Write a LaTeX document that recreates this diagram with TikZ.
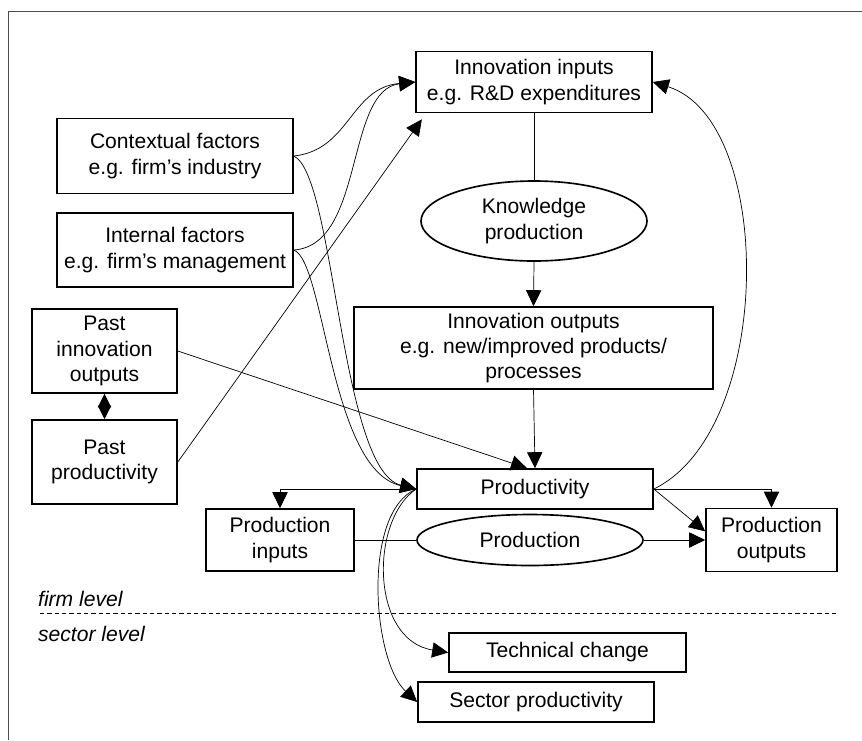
\documentclass[tikz,border=0pt]{standalone}
\usepackage{fontspec}
\setmainfont{Liberation Sans}
\usetikzlibrary{arrows.meta, shapes.geometric}

\begin{document}
\begin{tikzpicture}[x=0.3mm, y=-0.3mm,
    font=\fontsize{18}{21.5}\selectfont,
    box/.style 2 args={draw, line width=1.4pt, align=center, inner sep=0pt,
        minimum width=#1*0.3mm, minimum height=#2*0.3mm},
    oval/.style 2 args={box={#1}{#2}, ellipse},
    link/.style={line width=0.6pt},
    arr/.style={link, -{Triangle[length=4.8mm, width=4.6mm]}},
    both/.style={link, {Triangle[length=4.1mm, width=4mm]}-{Triangle[length=4.1mm, width=4mm]}}]

    \useasboundingbox (0,0) rectangle (862,740);

    % frame
    \draw[line width=0.7pt, black!70] (8,740) -- (8,11) -- (862,11);

    % firm level
    \node[box={236}{61}] (innin) at (534,82) {Innovation inputs\\e.g. R\&D expenditures};
    \node[box={236}{75}] (context) at (175,156) {Contextual factors\\e.g. firm’s industry};
    \node[box={236}{74}] (internal) at (175,250) {Internal factors\\e.g. firm’s management};
    \node[box={145}{84}] (pastinno) at (104.5,351) {Past\\innovation\\outputs};
    \node[box={145}{84}] (pastprod) at (104.5,462) {Past\\productivity};
    \node[oval={226}{80}] (knowprod) at (534,221) {Knowledge\\production};
    \node[box={359}{82}] (innout) at (533.5,348) {Innovation outputs\\e.g. new/improved products/\\processes};
    \node[box={236}{40}] (prodty) at (535,489) {Productivity};
    \node[oval={226}{51}] (prodn) at (530,540) {Production};
    \node[box={148}{62}] (prodin) at (280,540) {Production\\inputs};
    \node[box={131}{63}] (prodout) at (771.5,540) {Production\\outputs};

    % sector level
    \node[box={237}{39}] (techch) at (567.5,652.5) {Technical change};
    \node[box={236}{40}] (sectprod) at (536,702) {Sector productivity};

    \coordinate (dashL) at (40,613);
    \coordinate (dashR) at (838,613);
    \draw[line width=0.6pt, dash pattern=on 1.3mm off 0.9mm] (dashL) -- (dashR);
    \node[anchor=west, font=\fontsize{18}{21.5}\selectfont\itshape] (firm) at (34,599) {firm level};
    \node[anchor=west, font=\fontsize{18}{21.5}\selectfont\itshape] (sector) at (34,634) {sector level};

    % knowledge production chain
    \draw[link] (innin.south) -- (knowprod.north);
    \draw[arr] (knowprod.south) -- (innout.north);
    \draw[arr] (innout.south) -- (prodty.north);

    % into innovation inputs
    \draw[arr] (context.east) .. controls (350,150) and (350,88) .. (innin.west);
    \draw[arr] (internal.east) .. controls (365,245) and (345,90) .. (innin.west);
    \draw[arr] (pastprod.east) -- ([xshift=2mm, yshift=-1.8mm]innin.south west);
    \draw[arr] (prodty.east) .. controls (775,430) and (775,120) .. (innin.east);

    % into productivity
    \draw[arr] (context.east) .. controls (335,175) and (340,470) .. (prodty.west);
    \draw[arr] (internal.east) .. controls (325,262) and (330,470) .. (prodty.west);
    \draw[arr] (pastinno.east) -- ([xshift=-2.4mm]prodty.north);
    \draw[both] (pastinno.south) -- (pastprod.north);

    % production
    \draw[arr] (prodty.west) -| (prodin.north);
    \draw[link] (prodin.east) -- (prodn.west);
    \draw[arr] (prodn.east) -- (prodout.west);
    \draw[arr] (prodty.east) -| (prodout.north);
    \draw[arr] (prodty.east) -- ([yshift=2.6mm]prodout.west);

    % to sector level
    \draw[arr] (prodty.west) .. controls (370,520) and (370,640) .. (techch.west);
    \draw[arr] (prodty.west) .. controls (362,512) and (372,660) .. (sectprod.west);

\end{tikzpicture}
\end{document}
